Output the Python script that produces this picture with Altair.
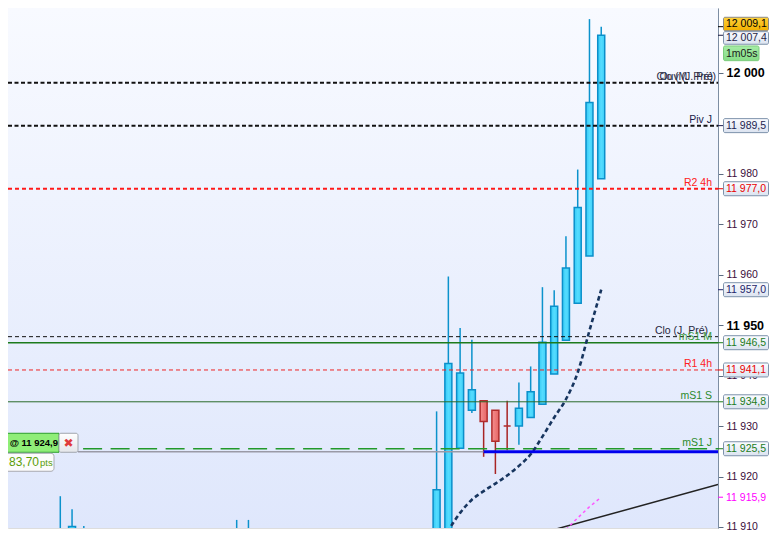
import altair as alt
import pandas as pd
import numpy as np

W, H = 710, 520
PAD_R, PAD_B = 51, 4
FONT = "Liberation Sans"

# ---------------- data ----------------
cndl_idx = [0, 1, 2, 3, 13, 14, 15, 16, 17, 32, 33, 34, 35, 36, 37, 38, 39, 40, 41, 42, 43, 44, 45, 46]
cndl_open = [11898.0, 11902.0, 11900.0, 11899.0, 11900.0, 11899.0, 11901.0, 11903.0, 11905.0,
             11898.0, 11908.8, 11925.6, 11933.1, 11935.0, 11933.1, 11930.0, 11930.0, 11931.7,
             11934.3, 11940.3, 11947.0, 11954.3, 11963.7, 11979.0]
cndl_high = [11916.1, 11913.5, 11910.2, 11909.8, 11909.6, 11908.0, 11911.4, 11911.4, 11908.4,
             11932.9, 11959.6, 11949.4, 11947.1, 11935.0, 11933.1, 11935.0, 11938.6, 11941.8,
             11957.5, 11956.9, 11967.6, 11980.8, 12010.6, 12009.1]
cndl_low = [11895.0, 11899.0, 11897.0, 11896.0, 11897.0, 11896.0, 11898.0, 11900.0, 11897.0,
            11895.0, 11908.0, 11925.6, 11932.6, 11923.9, 11920.5, 11925.2, 11926.3, 11931.7,
            11934.3, 11940.3, 11947.0, 11954.3, 11963.7, 11979.0]
cndl_close = [11903.0, 11910.1, 11905.0, 11904.0, 11904.0, 11903.0, 11905.0, 11907.8, 11900.0,
              11917.4, 11942.4, 11940.5, 11937.2, 11930.9, 11927.0, 11930.0, 11933.5, 11936.8,
              11946.6, 11953.7, 11961.3, 11973.3, 11994.1, 12007.4]

ma_idx = [32, 33, 34, 35, 36, 37, 38, 39, 40, 41, 42, 43, 44, 45, 46]
ma_vals = [11905.0, 11909.3, 11912.8, 11915.4, 11917.1, 11918.6, 11920.2, 11922.1, 11924.4,
           11927.9, 11931.7, 11935.3, 11940.6, 11948.9, 11957.0]

fast_idx = [42, 43, 44, 45, 46]
fast_vals = [11906.8, 11909.5, 11911.8, 11914.0, 11915.9]

trend_idx = [36.0, 55.93]
trend_vals = [11905.65, 11918.4]

level_labels = ["Ouv (J. Pré)", "Clo (M. Pré)", "Piv J", "R2 4h", "Clo (J. Pré)", "mS1 M",
                "R1 4h", "mS1 S", "mS1 J"]
level_values = [11998.0, 11998.0, 11989.5, 11977.0, 11947.7, 11946.5, 11941.1, 11934.8, 11925.5]
level_start = [-4.447, -4.447, -4.447, -4.447, -4.447, -4.447, -4.447, -4.447, 1.94]

order_price = [11924.9]
order_from = [1.5]
order_fill = [36.0]
order_pnl = ["83,70"]

box_values = [12009.1, 12007.4, 11989.5, 11977.0, 11957.0, 11946.5, 11941.1, 11934.8, 11925.5, 11915.9]
axis_ticks = [11910, 11920, 11930, 11940, 11950, 11960, 11970, 11980, 12000]
timer_text = ["1m05s"]


def fmt(v):
    return f"{v:,.1f}".replace(",", " ").replace(".", ",")


# ---------------- styles ----------------
box_text_color = {12009.1: "#000000", 12007.4: "#1e1e44", 11989.5: "#1e1e50", 11977.0: "#e80000",
                  11957.0: "#24246a", 11946.5: "#1c7c1c", 11941.1: "#e80000", 11934.8: "#1c7c1c",
                  11925.5: "#1c7c1c", 11915.9: "#ff00ff"}

X_MIN, X_MAX = -4.447, 55.93
Y_BOT, Y_TOP = 11909.8, 12012.8

xs = alt.Scale(domain=[X_MIN, X_MAX], nice=False, zero=False, padding=0)
ys = alt.Scale(domain=[Y_BOT, Y_TOP], nice=False, zero=False, padding=0)

yaxis = alt.Axis(
    orient="right", values=axis_ticks, title=None, grid=False, zindex=0,
    domainColor="#7d8ea3", domainWidth=1, tickSize=5, tickColor="#5b6b80",
    labelPadding=3, labelFont=FONT, labelOverlap=False, labelFlush=False,
    labelExpr="replace(format(datum.value, ','), ',', ' ')",
    labelFontSize={"condition": {"test": "datum.value % 50 === 0", "value": 12.5}, "value": 10.5},
    labelFontWeight={"condition": {"test": "datum.value % 50 === 0", "value": "bold"}, "value": "normal"},
    labelColor={"condition": {"test": "datum.value % 50 === 0", "value": "#000000"}, "value": "#3a0c3a"},
)


def X(f):
    return alt.X(f, type="quantitative", scale=xs, axis=None)


def Y(f):
    return alt.Y(f, type="quantitative", scale=ys, axis=yaxis)


def grad(stops, vertical=True):
    return alt.LinearGradient(
        gradient="linear",
        stops=[alt.GradientStop(color=c, offset=o) for o, c in stops],
        x1=0, y1=0, x2=0 if vertical else 1, y2=1 if vertical else 0)


one = pd.DataFrame({"k": [0]})

bg = alt.Chart(one).mark_rect(
    fill=grad([(0, "#f8faff"), (1, "#dfe7fc")])
).encode(x=alt.value(0), x2=alt.value(W), y=alt.value(0), y2=alt.value(H))

cdf = pd.DataFrame({"i": cndl_idx, "o": cndl_open, "h": cndl_high, "l": cndl_low, "c": cndl_close})
cdf["dir"] = np.where(cdf["c"] > cdf["o"], "up", "down")

wick = alt.Chart(cdf).mark_rule(strokeWidth=1.5, clip=True).encode(
    x=X("i"), y=Y("l"), y2=alt.Y2("h"),
    color=alt.Color("dir:N", scale=alt.Scale(domain=["up", "down"], range=["#0b92cc", "#a82424"]),
                    legend=None))

body_up = alt.Chart(cdf).transform_filter("datum.dir == 'up'").mark_bar(
    size=7, clip=True, stroke="#0b8fca", strokeWidth=1.5,
    fill=grad([(0, "#33c9f4"), (0.5, "#55dcff"), (1, "#3fd0f8")], vertical=False)
).encode(x=X("i"), y=Y("o"), y2=alt.Y2("c"))

body_dn = alt.Chart(cdf).transform_filter("datum.dir == 'down'").mark_bar(
    size=7, clip=True, stroke="#b02c2c", strokeWidth=1.5,
    fill=grad([(0, "#f59090"), (1, "#e66464")], vertical=False)
).encode(x=X("i"), y=Y("o"), y2=alt.Y2("c"))

ldf = pd.DataFrame({"label": level_labels, "v": level_values, "start": level_start})


def level_rule(label, color, width, dash=None):
    props = dict(color=color, strokeWidth=width)
    if dash:
        props["strokeDash"] = dash
    return alt.Chart(ldf).transform_filter(alt.datum.label == label).mark_rule(**props).encode(
        x=X("start"), x2=alt.value(W), y=Y("v"))


def level_text(label, color, xpos):
    return alt.Chart(ldf).transform_filter(alt.datum.label == label).mark_text(
        align="right", baseline="alphabetic", dy=-3, font=FONT, fontSize=10.5, color=color
    ).encode(x=alt.value(xpos), y=Y("v"), text="label:N")


levels = [
    level_rule("Ouv (J. Pré)", "#111111", 2, [4, 2.5]),
    level_rule("Piv J", "#111111", 2, [4, 2.5]),
    level_rule("R2 4h", "#ff1a1a", 2, [4, 3]),
    level_rule("Clo (J. Pré)", "#111111", 1, [4, 3]),
    level_rule("mS1 M", "#1c7a1c", 1.5),
    level_rule("R1 4h", "#ee2222", 1, [4, 3]),
    level_rule("mS1 S", "#2a6a2a", 1),
    level_rule("mS1 J", "#22992a", 1.5, [19, 8.5]),
]

texts = [
    level_text("Ouv (J. Pré)", "#262640", W - 2),
    level_text("Clo (M. Pré)", "#30304a", W - 5),
    level_text("Piv J", "#20204a", W - 6),
    level_text("R2 4h", "#ff2020", W - 6),
    level_text("Clo (J. Pré)", "#262640", W - 10),
    level_text("mS1 M", "#3c9c3c", W - 6),
    level_text("R1 4h", "#ff2020", W - 6),
    level_text("mS1 S", "#2a8a2a", W - 6),
    level_text("mS1 J", "#2a8a2a", W - 6),
]

tdf = pd.DataFrame({"i": trend_idx, "v": trend_vals})
trend = alt.Chart(tdf).mark_line(color="#222222", strokeWidth=1.5, clip=True).encode(x=X("i"), y=Y("v"))

fdf = pd.DataFrame({"i": fast_idx, "v": fast_vals})
fast = alt.Chart(fdf).mark_line(color="#ff55ff", strokeWidth=1.5, strokeDash=[3, 3], clip=True).encode(
    x=X("i"), y=Y("v"))

mdf = pd.DataFrame({"i": ma_idx, "v": ma_vals})
ma = alt.Chart(mdf).mark_line(color="#17355f", strokeWidth=2.6, strokeDash=[4.5, 3], interpolate="monotone",
                              clip=True).encode(x=X("i"), y=Y("v"))

odf = pd.DataFrame({"v": order_price, "a": order_from, "b": order_fill, "pnl": order_pnl})
odf["lbl"] = "@ " + odf["v"].map(fmt)

grey = alt.Chart(odf).mark_rule(color="#9a9aa6", strokeWidth=1.5).encode(x=X("a"), x2=alt.X2("b"), y=Y("v"))
blue = alt.Chart(odf).mark_rule(color="#0000ee", strokeWidth=3).encode(x=X("b"), x2=alt.value(W), y=Y("v"))

obox = alt.Chart(odf).mark_rect(fill="#8fee78", stroke="#2c9e2c", strokeWidth=1, yOffset=-18.5,
                                y2Offset=0.5).encode(x=alt.value(-10), x2=alt.value(51), y=Y("v"), y2=alt.Y2("v"))
otext = alt.Chart(odf).mark_text(align="right", baseline="middle", dy=-9, font=FONT, fontSize=9.5,
                                 fontWeight="bold", color="#000000").encode(
    x=alt.value(50), y=Y("v"), text="lbl:N")
xbox = alt.Chart(odf).mark_rect(fill=grad([(0, "#ffffff"), (1, "#e4e6ea")]), stroke="#a0a6ae", strokeWidth=1,
                                cornerRadius=2, yOffset=-18.5, y2Offset=0.5).encode(
    x=alt.value(51), x2=alt.value(70), y=Y("v"), y2=alt.Y2("v"))
xtext = alt.Chart(odf).mark_text(align="center", baseline="middle", dy=-9, font="DejaVu Sans", fontSize=12,
                                 fontWeight="bold", color="#e03a3a", text="✖").encode(
    x=alt.value(60.5), y=Y("v"))
pbox = alt.Chart(odf).mark_rect(fill="#fcfcfc", stroke="#a8aab0", strokeWidth=1, cornerRadius=3,
                                yOffset=1.5, y2Offset=19.5).encode(
    x=alt.value(-10), x2=alt.value(46), y=Y("v"), y2=alt.Y2("v"))
ptext = alt.Chart(odf).mark_text(align="left", baseline="middle", dy=10.5, font=FONT, fontSize=12,
                                 color="#5a9c08").encode(x=alt.value(1), y=Y("v"), text="pnl:N")
pts = alt.Chart(odf).mark_text(align="left", baseline="middle", dy=11, font=FONT, fontSize=9.5,
                               color="#5a9c08", text="pts").encode(x=alt.value(32), y=Y("v"))

bdf = pd.DataFrame({"v": box_values})
bdf["txt"] = bdf["v"].map(fmt)
bdf["tc"] = bdf["v"].map(box_text_color)

box_fill = grad([(0, "#fbfcff"), (1, "#dbe3f0")])

bticks = alt.Chart(bdf).mark_rule(strokeWidth=1).encode(
    x=alt.value(W), x2=alt.value(W + 5), y=Y("v"), color=alt.Color("tc:N", scale=None))

mid = bdf[(bdf["v"] < 12000) & (bdf["v"] > 11920)]
mag = bdf[bdf["v"] < 11920]
top1 = bdf[bdf["v"] == 12009.1]
top2 = bdf[bdf["v"] == 12007.4]


def boxes(d, fill, stroke, y0, y1, dy, x1=W + 50.5):
    props = dict(fill=fill, strokeWidth=1, cornerRadius=1.5, yOffset=y0, y2Offset=y1)
    if stroke:
        props["stroke"] = stroke
    r = alt.Chart(d).mark_rect(**props).encode(
        x=alt.value(W + 5.5), x2=alt.value(x1), y=Y("v"), y2=alt.Y2("v"))
    t = alt.Chart(d).mark_text(align="left", baseline="middle", dy=dy + 0.5, font=FONT, fontSize=10.5).encode(
        x=alt.value(W + 8), y=Y("v"), text="txt:N", color=alt.Color("tc:N", scale=None))
    return [r, t]


tdf2 = pd.DataFrame({"v": [12007.4], "txt": timer_text, "tc": ["#1a1a1a"]})

box_layers = (boxes(mid, box_fill, "#7d92ab", -7, 7, 0)
              + boxes(mag, "#ffffff", None, -7, 7, 0)
              + boxes(top1, grad([(0, "#ffd23c"), (1, "#f2b000")]), "#8a8a8a", -9.4, 4.0, -2.7)
              + boxes(top2, box_fill, "#7d92ab", -3.6, 9.0, 2.7)
              + boxes(tdf2, grad([(0, "#a6eca6"), (1, "#86dc86")]), "#7ccc7c", 10.7, 25.4, 18.0, x1=W + 41))

chart = alt.layer(
    bg, wick, body_up, body_dn, *levels, trend, fast, ma, grey, blue, *texts,
    obox, otext, xbox, xtext, pbox, ptext, pts, bticks, *box_layers
).properties(
    width=W, height=H,
    autosize=alt.AutoSizeParams(type="none"),
    padding={"left": 0, "top": 0, "right": PAD_R, "bottom": PAD_B},
).configure_view(stroke=None).configure(background="white")

chart.save("out.html", embed_options={"renderer": "svg", "actions": False})
